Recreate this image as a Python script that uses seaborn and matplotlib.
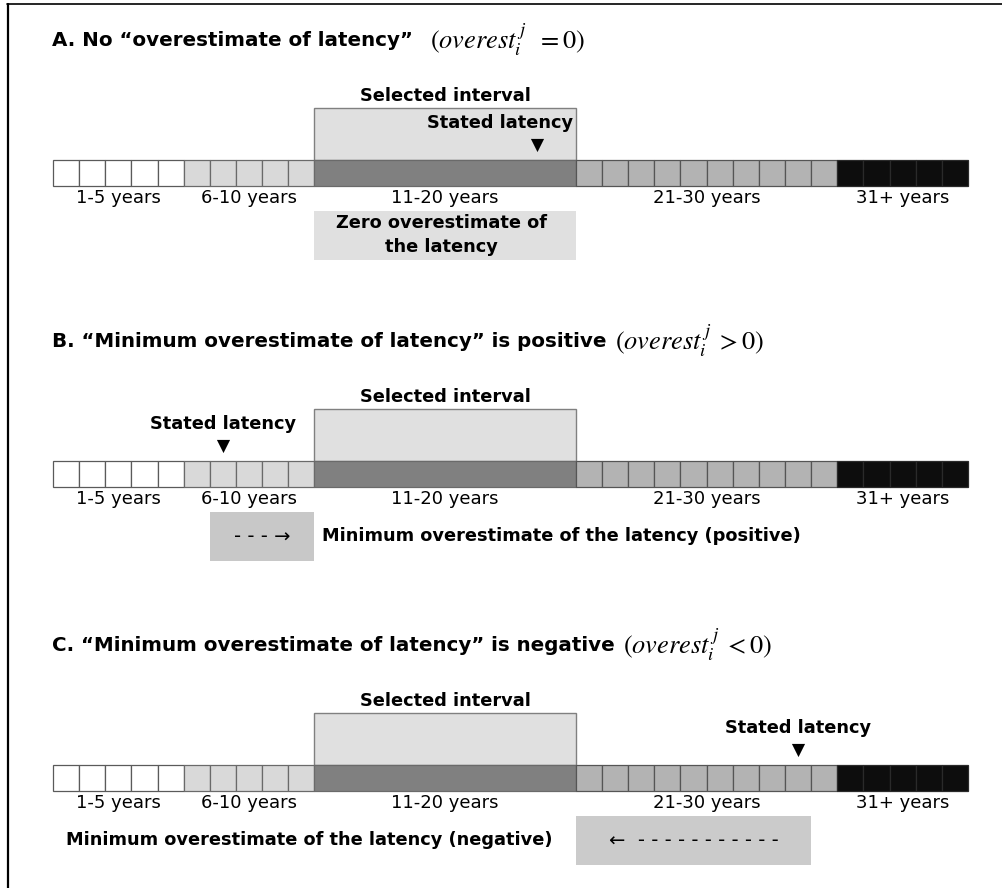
import matplotlib
matplotlib.use("Agg")
import matplotlib.pyplot as plt
import seaborn as sns
import pandas as pd

# ---------------- data ----------------
group_labels = ["1-5 years", "6-10 years", "11-20 years", "21-30 years", "31+ years"]
group_start = [0, 5, 10, 20, 30]
group_end = [5, 10, 20, 30, 35]
group_colors = ["#ffffff", "#d9d9d9", "#808080", "#b3b3b3", "#0d0d0d"]
group_edges = ["#5a5a5a", "#6a6a6a", "#6a6a6a", "#555555", "#2a2a2a"]
group_divided = [True, True, False, True, True]

panel_titles = ["A. No \u201coverestimate of latency\u201d",
                "B. \u201cMinimum overestimate of latency\u201d is positive",
                "C. \u201cMinimum overestimate of latency\u201d is negative"]
panel_math = [r"$(overest_i^{\,j}\;\;=0)$", r"$(overest_i^{\,j}\;>0)$", r"$(overest_i^{\,j}\;<0)$"]
selected_start = [10, 10, 10]
selected_end = [20, 20, 20]
stated_latency = [18.5, 6.5, 28.5]
stated_label_x = [17.1, 6.5, 28.5]
overest_start = [10, 6, 20]
overest_end = [20, 10, 29]
overest_colors = ["#e0e0e0", "#c8c8c8", "#cbcbcb"]
overest_arrows = ["", "- - - \u2192", "\u2190  - - - - - - - - - - -"]
overest_texts = ["Zero overestimate of\nthe latency",
                 "Minimum overestimate of the latency (positive)",
                 "Minimum overestimate of the latency (negative)"]

# ---------------- layout (pixels) ----------------
W, H = 1003, 888
X0, X1 = 53, 968
U = (X1 - X0) / 35.0
def px(x):
    return (x - X0) / U

strip_top = [160, 461, 765]
strip_h = 26
math_gap_pt = [12, 6, 6]
FS_TITLE = 14.3
FS_BODY = 12.8
FS_LABEL = 13

sns.set_theme(style="white")
plt.rcParams["font.family"] = ["DejaVu Sans"]
plt.rcParams["mathtext.fontset"] = "stix"
plt.rcParams["text.color"] = "black"

fig = plt.figure(figsize=(W / 100, H / 100), dpi=100)
ax = fig.add_axes([0, 0, 1, 1])
ax.set_xlim(px(0), px(W))
ax.set_ylim(H, 0)
ax.axis("off")

for p in range(3):
    top = strip_top[p]
    # selected interval box
    ax.bar([selected_start[p]], [52], width=[selected_end[p] - selected_start[p]],
           bottom=top - 52, align="edge", color="#e0e0e0", edgecolor="#808080",
           linewidth=1.0, zorder=1)
    ax.text((selected_start[p] + selected_end[p]) / 2, top - 64, "Selected interval",
            ha="center", va="center", fontsize=FS_BODY, fontweight="bold",
            color="black", zorder=5)
    # strip cells
    for g in range(len(group_labels)):
        if group_divided[g]:
            xs = list(range(group_start[g], group_end[g]))
            ws = [1] * len(xs)
        else:
            xs = [group_start[g]]
            ws = [group_end[g] - group_start[g]]
        ax.bar(xs, [strip_h] * len(xs), width=ws, bottom=top, align="edge",
               color=group_colors[g], edgecolor=group_edges[g], linewidth=0.9, zorder=2)
        ax.text((group_start[g] + group_end[g]) / 2, top + 38, group_labels[g],
                ha="center", va="center", fontsize=FS_LABEL, color="black", zorder=5)
    # overestimate box
    ax.bar([overest_start[p]], [49], width=[overest_end[p] - overest_start[p]],
           bottom=top + 51, align="edge", color=overest_colors[p], linewidth=0, zorder=1)
    cx = (overest_start[p] + overest_end[p]) / 2
    if p == 0:
        ax.text(cx - 0.15, top + 75, overest_texts[p], ha="center", va="center",
                fontsize=FS_BODY, fontweight="bold", linespacing=1.45,
                color="black", zorder=5)
    else:
        ax.text(cx, top + 75, overest_arrows[p], ha="center", va="center",
                fontsize=14, color="black", zorder=5)
        if p == 1:
            ax.text(px(322), top + 75, overest_texts[p], ha="left", va="center",
                    fontsize=FS_BODY, fontweight="bold", color="black", zorder=5)
        else:
            ax.text(px(553), top + 75, overest_texts[p], ha="right", va="center",
                    fontsize=FS_BODY, fontweight="bold", color="black", zorder=5)
    # stated latency
    df = pd.DataFrame({"x": [stated_latency[p]], "y": [top - 15]})
    sns.scatterplot(data=df, x="x", y="y", marker="v", s=90, color="black",
                    edgecolor="black", linewidth=0, ax=ax, legend=False, zorder=6)
    ax.text(stated_label_x[p], top - 37, "Stated latency", ha="center", va="center",
            fontsize=FS_BODY, fontweight="bold", color="black", zorder=5)
    # titles
    t = ax.text(px(52), top - 120, panel_titles[p], ha="left", va="center",
                fontsize=FS_TITLE, fontweight="bold", color="black", zorder=5)
    ax.annotate(panel_math[p], xy=(1, 0.5), xycoords=t, xytext=(math_gap_pt[p], 0),
                textcoords="offset points", ha="left", va="center", fontsize=19,
                color="black")

# frame
ax.plot([px(8), px(8)], [4, H], color="black", linewidth=1.6, zorder=7)
ax.plot([px(7), px(W)], [4, 4], color="black", linewidth=1.2, zorder=7)

ax.set_xlabel("")
ax.set_ylabel("")
fig.savefig("out.png", dpi=100)
